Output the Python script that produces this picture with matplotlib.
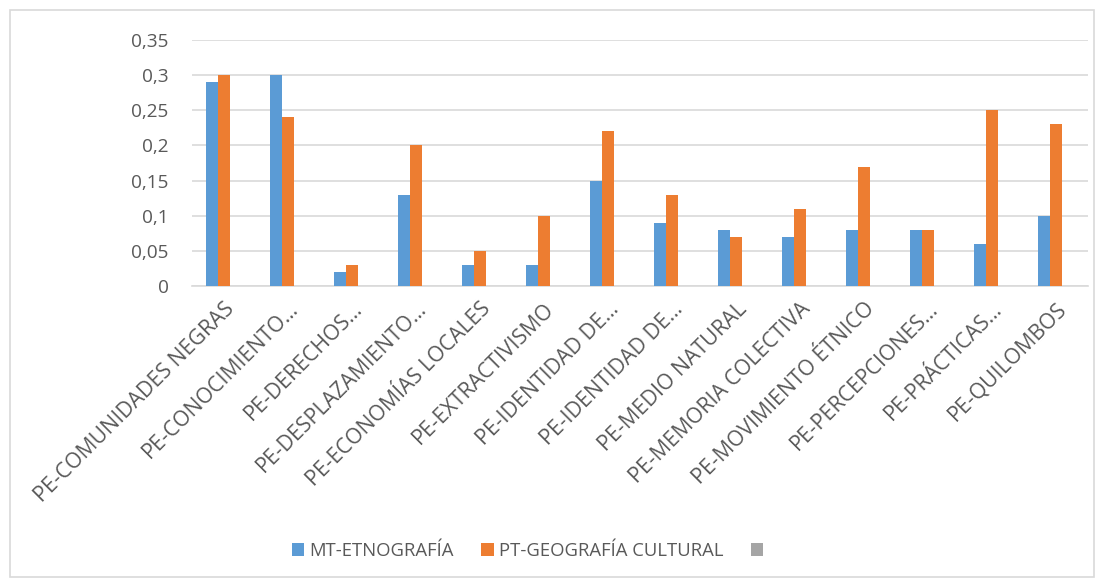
import matplotlib
matplotlib.use("Agg")
import matplotlib.pyplot as plt
import numpy as np
from matplotlib.patches import Rectangle

categories = ["PE-COMUNIDADES NEGRAS", "PE-CONOCIMIENTO…", "PE-DERECHOS…",
              "PE-DESPLAZAMIENTO…", "PE-ECONOMÍAS LOCALES", "PE-EXTRACTIVISMO",
              "PE-IDENTIDAD DE…", "PE-IDENTIDAD DE…", "PE-MEDIO NATURAL",
              "PE-MEMORIA COLECTIVA", "PE-MOVIMIENTO ÉTNICO", "PE-PERCEPCIONES…",
              "PE-PRÁCTICAS…", "PE-QUILOMBOS"]
mt_etnografia = [0.29, 0.30, 0.02, 0.13, 0.03, 0.03, 0.15, 0.09, 0.08, 0.07, 0.08, 0.08, 0.06, 0.10]
pt_geografia = [0.30, 0.24, 0.03, 0.20, 0.05, 0.10, 0.22, 0.13, 0.07, 0.11, 0.17, 0.08, 0.25, 0.23]
third_series = [0.0] * 14
series_names = ["MT-ETNOGRAFÍA", "PT-GEOGRAFÍA CULTURAL", ""]
yticks = [0, 0.05, 0.1, 0.15, 0.2, 0.25, 0.3, 0.35]
ytick_labels = ["0", "0,05", "0,1", "0,15", "0,2", "0,25", "0,3", "0,35"]

plt.rcParams['font.family'] = ['Open Sans', 'DejaVu Sans']
txt = '#595959'

fig = plt.figure(figsize=(11.04, 5.82), dpi=100)
fig.patches.append(Rectangle((10/1104, 1-577/582), 1084/1104, 567/582, transform=fig.transFigure,
                             fill=False, edgecolor='#d9d9d9', lw=1.2))
ax = fig.add_axes([192/1104, 1-286/582, 896/1104, 246/582])

x = np.arange(len(categories))
w = 12/64
b1 = ax.bar(x - w, mt_etnografia, w, color='#5b9bd5', zorder=3)
b2 = ax.bar(x, pt_geografia, w, color='#ed7d31', zorder=3)
b3 = ax.bar(x + w, third_series, w, color='#a5a5a5', zorder=3)

ax.set_xlim(-0.5, len(categories) - 0.5)
ax.set_ylim(0, 0.35)
ax.set_yticks(yticks)
ax.set_yticklabels(ytick_labels, fontsize=13.7, color=txt)
ax.yaxis.grid(True, color='#d9d9d9', lw=1.2, zorder=0)
ax.tick_params(axis='y', length=0, pad=17)
ax.tick_params(axis='x', length=0, pad=9)
for s in ['top', 'right', 'left']:
    ax.spines[s].set_visible(False)
ax.spines['bottom'].set_color('#d9d9d9')
ax.spines['bottom'].set_linewidth(1.2)
ax.set_xticks(x)
ax.set_xticklabels(categories, rotation=45, ha='right', rotation_mode='anchor',
                   fontsize=15.3, color=txt)

leg = fig.legend([b1, b2, b3], series_names, loc='center',
                 bbox_to_anchor=(530/1104, 1-551/582), ncol=3, frameon=False,
                 fontsize=13.3, handlelength=0.66, handleheight=0.66, handletextpad=0.27,
                 columnspacing=1.5)
for t in leg.get_texts():
    t.set_color(txt)

fig.savefig('out.png', dpi=100)
